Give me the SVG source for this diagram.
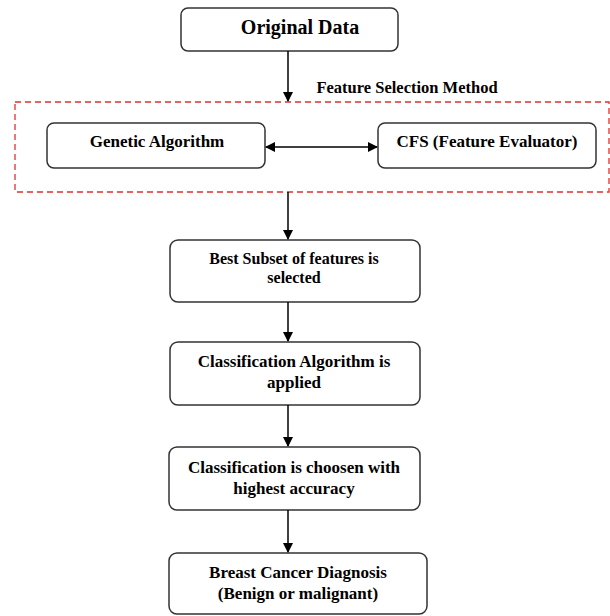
<svg xmlns="http://www.w3.org/2000/svg" width="610" height="616" viewBox="0 0 610 616">
<defs>
<style>
.box{fill:#fff;stroke:#333;stroke-width:1.5}
.t{font-family:'Liberation Serif','Times New Roman','DejaVu Serif',serif;font-weight:bold;font-size:17px;fill:#000;text-anchor:middle}
.c{stroke:#000;stroke-width:1.5;fill:none}
</style>
<marker id="ah" markerWidth="10" markerHeight="10" refX="9" refY="5" orient="auto-start-reverse" markerUnits="userSpaceOnUse">
<path d="M0,0 L10,5 L0,10 Z" fill="#000"/>
</marker>
</defs>
<rect width="610" height="616" fill="#fff"/>
<g id="group-fs">
<rect x="15" y="102" width="594" height="90" fill="none" stroke="#e03030" stroke-width="1.3" stroke-dasharray="6,4"/>
<text class="t" x="407" y="93" style="font-size:16.5px">Feature Selection Method</text>
</g>
<g id="n-original">
<rect class="box" x="181" y="8" width="217" height="43" rx="7"/>
<text class="t" x="300" y="34" style="font-size:20px">Original Data</text>
</g>
<g id="n-ga">
<rect class="box" x="47" y="123" width="218" height="45" rx="7"/>
<text class="t" x="157" y="147">Genetic Algorithm</text>
</g>
<g id="n-cfs">
<rect class="box" x="378" y="123" width="218" height="45" rx="7"/>
<text class="t" x="487" y="147">CFS (Feature Evaluator)</text>
</g>
<g id="n-best">
<rect class="box" x="170" y="240" width="250" height="62" rx="8"/>
<text class="t" x="294" y="264" style="font-size:16px">Best Subset of features is</text>
<text class="t" x="294" y="283" style="font-size:16px">selected</text>
</g>
<g id="n-classalg">
<rect class="box" x="170" y="342" width="250" height="63" rx="8"/>
<text class="t" x="294" y="367">Classification Algorithm is</text>
<text class="t" x="294" y="388">applied</text>
</g>
<g id="n-chosen">
<rect class="box" x="169" y="447" width="251" height="63" rx="8"/>
<text class="t" x="294" y="473">Classification is choosen with</text>
<text class="t" x="294" y="494">highest accuracy</text>
</g>
<g id="n-diag">
<rect class="box" x="169" y="553" width="258" height="61" rx="8"/>
<text class="t" x="298" y="578">Breast Cancer Diagnosis</text>
<text class="t" x="298" y="599">(Benign or malignant)</text>
</g>
<g id="connectors">
<line class="c" x1="288" y1="51" x2="288" y2="101" marker-end="url(#ah)"/>
<line class="c" x1="266" y1="147" x2="377" y2="147" marker-start="url(#ah)" marker-end="url(#ah)"/>
<line class="c" x1="288" y1="192" x2="288" y2="239" marker-end="url(#ah)"/>
<line class="c" x1="288" y1="302" x2="288" y2="341" marker-end="url(#ah)"/>
<line class="c" x1="288" y1="405" x2="288" y2="446" marker-end="url(#ah)"/>
<line class="c" x1="288" y1="510" x2="288" y2="552" marker-end="url(#ah)"/>
</g>
</svg>
